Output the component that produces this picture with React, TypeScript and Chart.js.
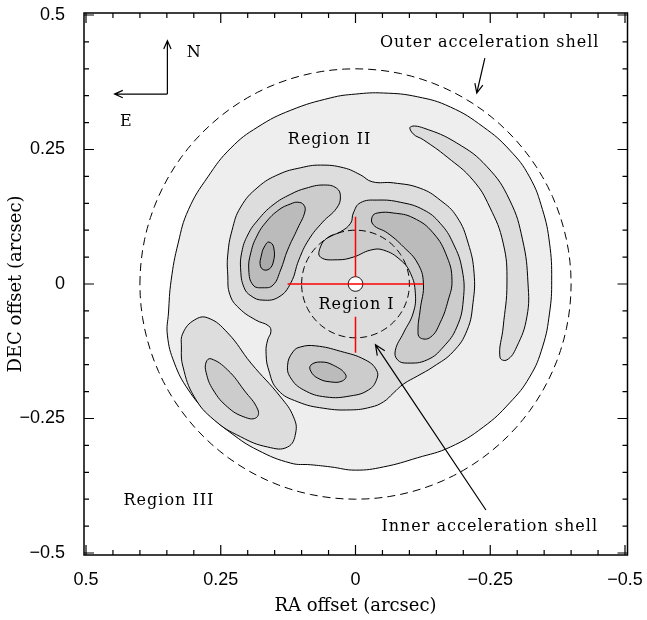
import React, { useEffect, useRef } from "react";
import { Chart, registerables } from "chart.js";

Chart.register(...registerables);

// ---------- axes ----------
const AXIS_MIN = -0.5;
const AXIS_MAX = 0.5;
const TICK_STEP = 0.25;
const MAJOR_TICKS = [-0.5, -0.25, 0, 0.25, 0.5];
const MINOR_TICKS = [-0.45, -0.4, -0.35, -0.3, -0.2, -0.15, -0.1, -0.05, 0.05, 0.1, 0.15, 0.2, 0.3, 0.35, 0.4, 0.45];
const X_TITLE = "RA offset (arcsec)";
const Y_TITLE = "DEC offset (arcsec)";

// ---------- contour level 1 (outermost) ----------
const L1_X = [0, -0.052, -0.115, -0.176, -0.237, -0.286, -0.323, -0.347, -0.36, -0.364, -0.36, -0.347, -0.323, -0.286, -0.237, -0.176, -0.115, -0.052, 0, 0.046, 0.083, 0.12, 0.181, 0.231, 0.274, 0.31, 0.336, 0.349, 0.347, 0.342, 0.329, 0.31, 0.274, 0.231, 0.181, 0.12, 0.046];
const L1_Y = [0.353, 0.355, 0.348, 0.329, 0.292, 0.249, 0.199, 0.138, 0.076, 0.007, -0.054, -0.117, -0.173, -0.221, -0.266, -0.303, -0.323, -0.34, -0.346, -0.34, -0.336, -0.333, -0.309, -0.277, -0.24, -0.197, -0.147, -0.095, -0.054, 0.007, 0.076, 0.138, 0.199, 0.253, 0.292, 0.323, 0.346];

// ---------- contour level 2 ----------
const L2A_X = [0.102, 0.065, 0.022, -0.009, -0.031, -0.07, -0.12, -0.157, -0.188, -0.209, -0.22, -0.218, -0.207, -0.181, -0.144, -0.115, -0.089, -0.07, -0.052, -0.028, 0.009, 0.059, 0.107, 0.144, 0.161, 0.166, 0.163, 0.157, 0.161, 0.185, 0.216, 0.233, 0.237, 0.237, 0.229, 0.213, 0.181, 0.142];
const L2A_Y = [0.216, 0.221, 0.216, 0.203, 0.19, 0.188, 0.178, 0.156, 0.125, 0.076, 0.02, -0.035, -0.086, -0.126, -0.154, -0.171, -0.186, -0.203, -0.219, -0.229, -0.234, -0.231, -0.219, -0.197, -0.16, -0.126, -0.104, -0.089, -0.078, -0.067, -0.045, -0.02, 0.017, 0.054, 0.1, 0.143, 0.18, 0.204];
const L2B_X = [0.32, 0.299, 0.274, 0.237, 0.194, 0.139, 0.115, 0.111, 0.126, 0.163, 0.213, 0.262, 0.299, 0.32, 0.323];
const L2B_Y = [-0.091, -0.067, -0.063, -0.091, -0.147, -0.21, -0.247, -0.277, -0.303, -0.303, -0.284, -0.253, -0.21, -0.154, -0.117];
const L2C_X = [-0.102, -0.126, -0.188, -0.244, -0.286, -0.31, -0.32, -0.318, -0.299, -0.281, -0.268, -0.274, -0.281, -0.274, -0.249, -0.218, -0.17, -0.126, -0.107];
const L2C_Y = [0.292, 0.29, 0.262, 0.218, 0.156, 0.082, 0.002, -0.061, -0.117, -0.141, -0.136, -0.08, 0.002, 0.076, 0.143, 0.193, 0.236, 0.268, 0.279];

// ---------- contour level 3 ----------
const L3A_X = [0.059, 0.035, 0.028, 0.035, 0.061, 0.087, 0.105, 0.12, 0.142, 0.172, 0.194, 0.207, 0.213, 0.211, 0.2, 0.181, 0.153, 0.12, 0.092];
const L3A_Y = [0.184, 0.178, 0.162, 0.141, 0.115, 0.082, 0.045, 0.002, -0.024, -0.03, -0.022, -0.006, 0.026, 0.059, 0.091, 0.119, 0.147, 0.167, 0.178];
const L3B_X = [0.065, 0.033, 0.004, -0.028, -0.052, -0.083, -0.102, -0.111, -0.107, -0.089, -0.074, -0.078, -0.096, -0.133, -0.163, -0.188, -0.2, -0.198, -0.181, -0.157, -0.126, -0.083, -0.041, -0.009, 0.004, 0.009, 0.028, 0.052, 0.065];
const L3B_Y = [0.05, 0.045, 0.05, 0.063, 0.063, 0.045, 0.02, -0.017, -0.054, -0.091, -0.123, -0.141, -0.147, -0.141, -0.117, -0.08, -0.03, 0.026, 0.076, 0.113, 0.138, 0.152, 0.156, 0.151, 0.132, 0.113, 0.097, 0.086, 0.069];
const L3C_X = [0.126, 0.116, 0.102, 0.074, 0.028, -0.018, -0.039, -0.039, -0.024, 0.009, 0.055, 0.096, 0.12];
const L3C_Y = [-0.151, -0.126, -0.117, -0.115, -0.125, -0.141, -0.16, -0.178, -0.197, -0.208, -0.21, -0.197, -0.175];
const L3D_X = [0.277, 0.268, 0.237, 0.207, 0.181, 0.185, 0.207, 0.237, 0.264, 0.277];
const L3D_Y = [-0.145, -0.139, -0.16, -0.197, -0.234, -0.249, -0.247, -0.229, -0.197, -0.165];

// ---------- contour level 4 ----------
const L4A_X = [0.107, 0.096, 0.094, 0.107, 0.126, 0.139, 0.153, 0.172, 0.19, 0.198, 0.194, 0.183, 0.166, 0.142, 0.12];
const L4A_Y = [0.152, 0.147, 0.134, 0.104, 0.063, 0.026, -0.002, -0.007, -0.002, 0.026, 0.059, 0.089, 0.115, 0.138, 0.149];
const L4B_X = [-0.031, -0.033, -0.059, -0.089, -0.115, -0.126, -0.12, -0.116, -0.12, -0.139, -0.157, -0.172, -0.179, -0.17, -0.144, -0.107, -0.07, -0.041];
const L4B_Y = [0.125, 0.11, 0.095, 0.069, 0.039, 0.002, -0.048, -0.086, -0.1, -0.099, -0.072, -0.03, 0.007, 0.05, 0.095, 0.123, 0.132, 0.132];
const L4C_X = [0.083, 0.065, 0.041, 0.018, 0.024, 0.046, 0.07, 0.083];
const L4C_Y = [-0.151, -0.145, -0.151, -0.169, -0.18, -0.182, -0.175, -0.162];

// ---------- contour level 5 ----------
const L5_X = [0.161, 0.152, 0.153, 0.164, 0.176, 0.174, 0.168];
const L5_Y = [0.078, 0.069, 0.039, 0.026, 0.032, 0.056, 0.071];

// ---------- shells & markers ----------
const OUTER_SHELL_R = 0.4;
const INNER_SHELL_R = 0.1;
const CENTER_MARK_R = 0.0135;
const CROSS_H_X = [0.126, -0.126];
const CROSS_H_Y = [0, 0];
const CROSS_V_X = [0, 0];
const CROSS_V_TOP_Y = [0.125, 0.013];
const CROSS_V_BOTTOM_Y = [-0.061, -0.128];

// ---------- annotations ----------
const COMPASS_ORIGIN = [0.349, 0.353];
const COMPASS_NORTH = [0.349, 0.452];
const COMPASS_EAST = [0.447, 0.353];
const OUTER_ARROW_FROM = [-0.24, 0.42];
const OUTER_ARROW_TO = [-0.225, 0.355];
const INNER_ARROW_FROM = [-0.242, -0.42];
const INNER_ARROW_TO = [-0.037, -0.113];
const LABEL_TEXTS = ["N", "E", "Outer acceleration shell", "Inner acceleration shell", "Region I", "Region II", "Region III"];
const LABEL_X = [0.299, 0.425, -0.249, -0.249, -0.002, 0.048, 0.346];
const LABEL_Y = [0.429, 0.301, 0.448, -0.452, -0.039, 0.268, -0.403];

const LEVEL_COLORS = ["#eeeeee", "#dddddd", "#cccccc", "#bbbbbb", "#aaaaaa"];

const toPoints = (xs: number[], ys: number[]) => xs.map((x, i) => ({ x, y: ys[i] }));
const circlePoints = (r: number, n = 120) => {
  const pts: { x: number; y: number }[] = [];
  for (let i = 0; i < n; i++) {
    const a = (i / n) * Math.PI * 2;
    pts.push({ x: r * Math.cos(a), y: r * Math.sin(a) });
  }
  return pts;
};

const contour = (xs: number[], ys: number[], color: string) => ({
  data: toPoints(xs, ys),
  showLine: true,
  closed: true,
  borderColor: "#000",
  borderWidth: 1,
  backgroundColor: color,
  fill: "shape",
  tension: 0.45,
  pointRadius: 0,
});

const fmt = (v: number) => {
  const r = Math.round(v * 100) / 100;
  if (r === 0) return "0";
  return String(r).replace("-", "\u2212");
};

const loopPlugin = {
  id: "closedLoops",
  afterDatasetUpdate(chart: any, args: any) {
    const ds = chart.data.datasets[args.index];
    const line = args.meta && args.meta.dataset;
    if (ds && ds.closed && line) {
      line._loop = true;
      line._fullLoop = true;
    }
  },
};

const decorPlugin = {
  id: "decor",
  afterDraw(chart: any) {
    const ctx = chart.ctx;
    const xs = chart.scales.x;
    const ys = chart.scales.y;
    const area = chart.chartArea;
    const left = area.left - 2;
    const right = area.right + 2.5;
    const top = area.top - 2;
    const bottom = area.bottom + 2;
    const px = (v: number) => xs.getPixelForValue(v);
    const py = (v: number) => ys.getPixelForValue(v);
    ctx.save();
    ctx.strokeStyle = "#000";
    ctx.fillStyle = "#000";
    // frame
    ctx.lineWidth = 1.5;
    ctx.strokeRect(left, top, right - left, bottom - top);
    // ticks
    ctx.lineWidth = 1.2;
    const tick = (vals: number[], len: number) => {
      ctx.beginPath();
      for (const v of vals) {
        const x = px(v);
        ctx.moveTo(x, bottom); ctx.lineTo(x, bottom - len);
        ctx.moveTo(x, top); ctx.lineTo(x, top + len);
        const y = py(v);
        ctx.moveTo(left, y); ctx.lineTo(left + len, y);
        ctx.moveTo(right, y); ctx.lineTo(right - len, y);
      }
      ctx.stroke();
    };
    tick(MAJOR_TICKS, 10);
    tick(MINOR_TICKS, 5);

    // arrows
    const arrow = (from: number[], to: number[], head: number) => {
      const x1 = px(from[0]), y1 = py(from[1]);
      const x2 = px(to[0]), y2 = py(to[1]);
      ctx.beginPath();
      ctx.moveTo(x1, y1);
      ctx.lineTo(x2, y2);
      const ang = Math.atan2(y2 - y1, x2 - x1);
      const spread = 0.42;
      ctx.moveTo(x2 - head * Math.cos(ang - spread), y2 - head * Math.sin(ang - spread));
      ctx.lineTo(x2, y2);
      ctx.lineTo(x2 - head * Math.cos(ang + spread), y2 - head * Math.sin(ang + spread));
      ctx.stroke();
    };
    ctx.lineWidth = 1.2;
    arrow(COMPASS_ORIGIN, COMPASS_NORTH, 9);
    arrow(COMPASS_ORIGIN, COMPASS_EAST, 9);
    arrow(OUTER_ARROW_FROM, OUTER_ARROW_TO, 10);
    arrow(INNER_ARROW_FROM, INNER_ARROW_TO, 11);

    // labels
    ctx.font = '16px "DejaVu Serif", serif';
    try { (ctx as any).letterSpacing = "1px"; } catch (e) {}
    ctx.textAlign = "center";
    ctx.textBaseline = "middle";
    LABEL_TEXTS.forEach((t, i) => {
      ctx.fillText(t, px(LABEL_X[i]), py(LABEL_Y[i]));
    });
    ctx.restore();
  },
};

export default function App() {
  const ref = useRef<HTMLCanvasElement | null>(null);
  useEffect(() => {
    if (!ref.current) return;
    const layers: any[] = [
      contour(L1_X, L1_Y, LEVEL_COLORS[0]),
      contour(L2A_X, L2A_Y, LEVEL_COLORS[1]),
      contour(L2B_X, L2B_Y, LEVEL_COLORS[1]),
      contour(L2C_X, L2C_Y, LEVEL_COLORS[1]),
      contour(L3A_X, L3A_Y, LEVEL_COLORS[2]),
      contour(L3B_X, L3B_Y, LEVEL_COLORS[2]),
      contour(L3C_X, L3C_Y, LEVEL_COLORS[2]),
      contour(L3D_X, L3D_Y, LEVEL_COLORS[2]),
      contour(L4A_X, L4A_Y, LEVEL_COLORS[3]),
      contour(L4B_X, L4B_Y, LEVEL_COLORS[3]),
      contour(L4C_X, L4C_Y, LEVEL_COLORS[3]),
      contour(L5_X, L5_Y, LEVEL_COLORS[4]),
      {
        data: circlePoints(OUTER_SHELL_R), showLine: true, closed: true,
        borderColor: "#000", borderWidth: 1, borderDash: [8, 5], fill: false, tension: 0, pointRadius: 0,
      },
      {
        data: circlePoints(INNER_SHELL_R), showLine: true, closed: true,
        borderColor: "#000", borderWidth: 1, borderDash: [7, 4], fill: false, tension: 0, pointRadius: 0,
      },
      {
        data: circlePoints(CENTER_MARK_R, 40), showLine: true, closed: true,
        borderColor: "#000", borderWidth: 1, backgroundColor: "#ffffff", fill: "shape", tension: 0, pointRadius: 0,
      },
      { data: toPoints(CROSS_H_X, CROSS_H_Y), showLine: true, borderColor: "#ff0000", borderWidth: 1.5, fill: false, pointRadius: 0 },
      { data: toPoints(CROSS_V_X, CROSS_V_TOP_Y), showLine: true, borderColor: "#ff0000", borderWidth: 1.5, fill: false, pointRadius: 0 },
      { data: toPoints(CROSS_V_X, CROSS_V_BOTTOM_Y), showLine: true, borderColor: "#ff0000", borderWidth: 1.5, fill: false, pointRadius: 0 },
    ];
    const datasets = layers.map((d, i) => ({ ...d, order: layers.length - i }));

    const chart = new Chart(ref.current, {
      type: "scatter",
      data: { datasets },
      plugins: [loopPlugin, decorPlugin],
      options: {
        responsive: false,
        animation: false,
        devicePixelRatio: 1,
        events: [],
        layout: { padding: { top: 15, right: 22, bottom: 0, left: 0 } },
        plugins: { legend: { display: false }, tooltip: { enabled: false } },
        scales: {
          x: {
            type: "linear",
            min: AXIS_MIN,
            max: AXIS_MAX,
            reverse: true,
            grid: { display: false },
            border: { display: false },
            ticks: {
              stepSize: TICK_STEP,
              padding: 8,
              color: "#000",
              maxRotation: 0,
              autoSkip: false,
              font: { family: '"Liberation Sans", Arial, sans-serif', size: 18 },
              callback: (v: any) => fmt(Number(v)),
            },
            title: {
              display: true,
              text: X_TITLE,
              color: "#000",
              font: { family: '"DejaVu Serif", serif', size: 18 },
              padding: { top: 0, bottom: 3 },
            },
            afterFit: (s: any) => { s.height = 67; s.paddingLeft = 0; s.paddingRight = 0; },
          },
          y: {
            type: "linear",
            min: AXIS_MIN,
            max: AXIS_MAX,
            grid: { display: false },
            border: { display: false },
            ticks: {
              stepSize: TICK_STEP,
              padding: 13,
              color: "#000",
              autoSkip: false,
              font: { family: '"Liberation Sans", Arial, sans-serif', size: 18 },
              callback: (v: any) => fmt(Number(v)),
            },
            title: {
              display: true,
              text: Y_TITLE,
              color: "#000",
              font: { family: '"DejaVu Serif", serif', size: 18 },
              padding: { top: 6, bottom: 0 },
            },
            afterFit: (s: any) => { s.width = 86; s.paddingTop = 0; s.paddingBottom = 0; },
          },
        },
      } as any,
    });
    return () => chart.destroy();
  }, []);

  return (
    <div style={{ position: "absolute", left: 0, top: 0, width: 647, height: 620, background: "#fff" }}>
      <canvas ref={ref} width={647} height={620} style={{ display: "block", width: 647, height: 620 }} />
    </div>
  );
}
